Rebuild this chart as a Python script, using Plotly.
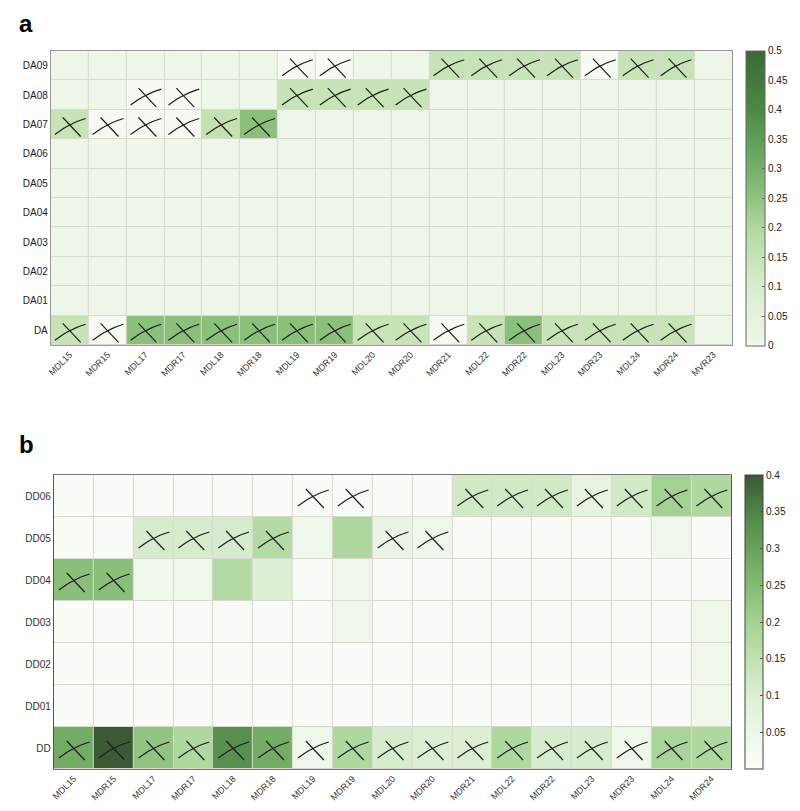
import plotly.graph_objects as go

# ---- panel a data ----
cols_a = ['MDL15', 'MDR15', 'MDL17', 'MDR17', 'MDL18', 'MDR18', 'MDL19', 'MDR19', 'MDL20',
          'MDR20', 'MDR21', 'MDL22', 'MDR22', 'MDL23', 'MDR23', 'MDL24', 'MDR24', 'MVR23']
rows_a = ['DA09', 'DA08', 'DA07', 'DA06', 'DA05', 'DA04', 'DA03', 'DA02', 'DA01', 'DA']

vals_a = [
    [.01, .01, .01, .01, .01, .01, 0, 0, .01, .01, .15, .15, .15, .15, 0, .15, .15, .01],
    [.01, .01, 0, 0, .01, .01, .15, .15, .15, .15, .01, .01, .01, .01, .01, .01, .01, .01],
    [.15, 0, 0, 0, .16, .26, .01, .01, .01, .01, .01, .01, .01, .01, .01, .01, .01, .01],
    [.01] * 18,
    [.01] * 18,
    [.01] * 18,
    [.01] * 18,
    [.01] * 18,
    [.01] * 18,
    [.15, 0, .26, .26, .26, .26, .26, .26, .15, .15, 0, .15, .26, .15, .15, .15, .15, .01],
]
cross_a = [
    [0, 0, 0, 0, 0, 0, 1, 1, 0, 0, 1, 1, 1, 1, 1, 1, 1, 0],
    [0, 0, 1, 1, 0, 0, 1, 1, 1, 1, 0, 0, 0, 0, 0, 0, 0, 0],
    [1, 1, 1, 1, 1, 1, 0, 0, 0, 0, 0, 0, 0, 0, 0, 0, 0, 0],
    [0] * 18,
    [0] * 18,
    [0] * 18,
    [0] * 18,
    [0] * 18,
    [0] * 18,
    [1, 1, 1, 1, 1, 1, 1, 1, 1, 1, 1, 1, 1, 1, 1, 1, 1, 0],
]
ticks_a = [0, 0.05, 0.1, 0.15, 0.2, 0.25, 0.3, 0.35, 0.4, 0.45, 0.5]

# ---- panel b data ----
cols_b = ['MDL15', 'MDR15', 'MDL17', 'MDR17', 'MDL18', 'MDR18', 'MDL19', 'MDR19', 'MDL20',
          'MDR20', 'MDR21', 'MDL22', 'MDR22', 'MDL23', 'MDR23', 'MDL24', 'MDR24']
rows_b = ['DD06', 'DD05', 'DD04', 'DD03', 'DD02', 'DD01', 'DD']

vals_b = [
    [.005, .005, .005, .005, .005, .005, .01, .01, .005, .005, .12, .12, .12, .07, .12, .2, .18],
    [.005, .005, .11, .11, .11, .17, .05, .18, .06, .05, .005, .005, .005, .005, .005, .05, .005],
    [.24, .24, .04, .05, .17, .1, .01, .05, .005, .005, .005, .005, .005, .005, .005, .005, .005],
    [.005, .005, .005, .005, .005, .005, .005, .05, .005, .005, .005, .005, .005, .005, .005, .005, .05],
    [.005, .005, .005, .005, .005, .005, .005, .005, .005, .005, .005, .005, .005, .005, .005, .005, .05],
    [.005, .005, .005, .005, .005, .005, .005, .005, .005, .005, .005, .005, .005, .005, .005, .005, .05],
    [.28, .4, .23, .18, .33, .28, .05, .18, .11, .1, .1, .18, .11, .11, .05, .19, .18],
]
cross_b = [
    [0, 0, 0, 0, 0, 0, 1, 1, 0, 0, 1, 1, 1, 1, 1, 1, 1],
    [0, 0, 1, 1, 1, 1, 0, 0, 1, 1, 0, 0, 0, 0, 0, 0, 0],
    [1, 1, 0, 0, 0, 0, 0, 0, 0, 0, 0, 0, 0, 0, 0, 0, 0],
    [0] * 17,
    [0] * 17,
    [0] * 17,
    [1] * 17,
]
ticks_b = [0.05, 0.1, 0.15, 0.2, 0.25, 0.3, 0.35, 0.4]

scale_a = [[0, '#f6faf2'], [0.02, '#eef6e7'], [0.1, '#e6f2dd'], [0.2, '#d8ecce'],
           [0.3, '#c6e4b6'], [0.4, '#b0d89f'], [0.5, '#8fc47e'], [0.6, '#75b068'],
           [0.7, '#5fa055'], [0.8, '#4b8a45'], [0.9, '#417a3c'], [1, '#3b6836']]
scale_b = [[0, '#fbfdf9'], [0.125, '#eef7e9'], [0.25, '#dcefd3'], [0.375, '#c0e2b0'],
           [0.5, '#a3d193'], [0.625, '#84bb73'], [0.75, '#68a25c'], [0.875, '#4f8447'],
           [1, '#3a5a35']]


def cross_xy(flags, cell_w, cell_h):
    # curved stroke + straight stroke, sized in pixels, per flagged cell
    xs, ys = [], []
    p0, p1, p2 = (-15, 10), (-1, -1), (16, -6)
    q0, q1 = (-7, -7), (11, 12)
    for r, row in enumerate(flags):
        for c, f in enumerate(row):
            if not f:
                continue
            for k in range(11):
                t = k / 10
                px = (1 - t) ** 2 * p0[0] + 2 * (1 - t) * t * p1[0] + t ** 2 * p2[0]
                py = (1 - t) ** 2 * p0[1] + 2 * (1 - t) * t * p1[1] + t ** 2 * p2[1]
                xs.append(c + px / cell_w)
                ys.append(r + py / cell_h)
            xs.append(None)
            ys.append(None)
            xs += [c + q0[0] / cell_w, c + q1[0] / cell_w, None]
            ys += [r + q0[1] / cell_h, r + q1[1] / cell_h, None]
    return xs, ys


# page body has an 8px margin, so the canvas sits 8px in from the window edge
OFF = 8
W, H = 800 - OFF, 811 - OFF


def px_x(v):
    return (v - OFF) / W


def px_y(v):
    return 1 - (v - OFF) / H


fig = go.Figure()

fig.add_trace(go.Heatmap(z=vals_a, x=list(range(len(cols_a))), y=list(range(len(rows_a))),
                         coloraxis='coloraxis', xgap=1, ygap=1, hoverinfo='skip'))
xa, ya = cross_xy(cross_a, (732 - 47) / len(cols_a), (345 - 51) / len(rows_a))
fig.add_trace(go.Scatter(x=xa, y=ya, mode='lines', line=dict(color='#1e1e1e', width=1.2),
                         hoverinfo='skip', showlegend=False))

fig.add_trace(go.Heatmap(z=vals_b, x=list(range(len(cols_b))), y=list(range(len(rows_b))),
                         coloraxis='coloraxis2', xgap=1, ygap=1, hoverinfo='skip',
                         xaxis='x2', yaxis='y2'))
xb, yb = cross_xy(cross_b, (731 - 50) / len(cols_b), (769 - 475) / len(rows_b))
fig.add_trace(go.Scatter(x=xb, y=yb, mode='lines', line=dict(color='#1e1e1e', width=1.2),
                         hoverinfo='skip', showlegend=False, xaxis='x2', yaxis='y2'))

font = dict(family='Liberation Sans, Arial', size=10, color='#222')

fig.update_layout(
    width=W, height=H,
    margin=dict(l=0, r=0, t=0, b=0),
    paper_bgcolor='white',
    plot_bgcolor='#d9d9cf',
    font=font,
    showlegend=False,
    xaxis=dict(domain=[px_x(47), px_x(732)], range=[-0.5, len(cols_a) - 0.5],
               tickvals=list(range(len(cols_a))), ticktext=cols_a, tickangle=-45,
               showgrid=False, zeroline=False, showline=True, linecolor='#999', mirror=True,
               ticks='', tickfont=dict(size=9, color='#333'), anchor='y'),
    yaxis=dict(domain=[px_y(345), px_y(51)], range=[len(rows_a) - 0.5, -0.5],
               tickvals=list(range(len(rows_a))), ticktext=rows_a,
               showgrid=False, zeroline=False, showline=True, linecolor='#999', mirror=True,
               ticks='', tickfont=dict(size=10, color='#222'), anchor='x'),
    xaxis2=dict(domain=[px_x(50), px_x(731)], range=[-0.5, len(cols_b) - 0.5],
                tickvals=list(range(len(cols_b))), ticktext=cols_b, tickangle=-45,
                showgrid=False, zeroline=False, showline=True, linecolor='#777', mirror=True,
                ticks='', tickfont=dict(size=9, color='#333'), anchor='y2'),
    yaxis2=dict(domain=[px_y(769), px_y(475)], range=[len(rows_b) - 0.5, -0.5],
                tickvals=list(range(len(rows_b))), ticktext=rows_b,
                showgrid=False, zeroline=False, showline=True, linecolor='#555', mirror=True,
                ticks='', tickfont=dict(size=10, color='#333'), anchor='x2'),
    coloraxis=dict(colorscale=scale_a, cmin=0, cmax=0.5,
                   colorbar=dict(x=px_x(746), xanchor='left', y=px_y(198), yanchor='middle',
                                 len=295 / H, lenmode='fraction', thickness=19, thicknessmode='pixels',
                                 outlinecolor='#666', outlinewidth=1, tickvals=ticks_a,
                                 ticktext=[f'{t:g}' for t in ticks_a], ticks='inside', ticklen=3,
                                 tickcolor='#666', tickfont=dict(size=10, color='#222'), xpad=0, ypad=0)),
    coloraxis2=dict(colorscale=scale_b, cmin=0, cmax=0.4,
                    colorbar=dict(x=px_x(745), xanchor='left', y=px_y(622), yanchor='middle',
                                  len=294 / H, lenmode='fraction', thickness=18, thicknessmode='pixels',
                                  outlinecolor='#444', outlinewidth=1, tickvals=ticks_b,
                                  ticktext=[f'{t:g}' for t in ticks_b], ticks='inside', ticklen=3,
                                  tickcolor='#555', tickfont=dict(size=10, color='#222'), xpad=0, ypad=0)),
    annotations=[
        dict(text='<b>a</b>', x=px_x(13), y=px_y(8), xref='paper', yref='paper', xanchor='left',
             yanchor='top', showarrow=False, font=dict(size=24, color='black', family='Liberation Sans, Arial')),
        dict(text='<b>b</b>', x=px_x(13), y=px_y(429), xref='paper', yref='paper', xanchor='left',
             yanchor='top', showarrow=False, font=dict(size=24, color='black', family='Liberation Sans, Arial')),
    ],
)

fig.write_html("out.html")
